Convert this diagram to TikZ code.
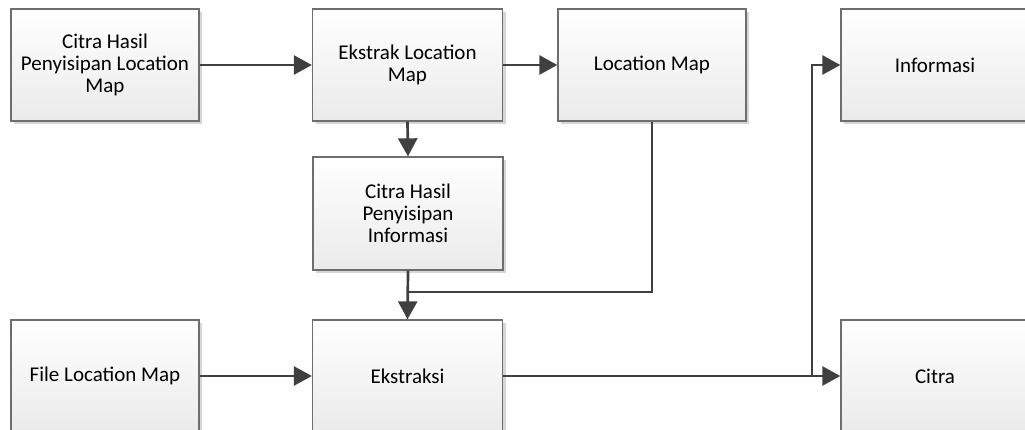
\documentclass[tikz,border=0pt]{standalone}
\usepackage{fontspec}
\setmainfont{Carlito}
\usetikzlibrary{arrows.meta,shadows}
\definecolor{linec}{HTML}{404040}
\definecolor{boxborder}{HTML}{6E6E6E}
\tikzset{
  blk/.style={draw=boxborder, line width=1.3pt, rectangle, top color=white, bottom color=black!8,
    minimum width=190pt, minimum height=112pt, align=center, inner sep=4pt,
    font=\fontsize{21}{22}\selectfont,
    drop shadow={shadow xshift=3pt, shadow yshift=-3pt, fill=black!16, opacity=1}},
  conn/.style={draw=linec, line width=2.7pt},
  arr/.style={conn, -{Triangle[length=18pt,width=19pt]}}
}
\begin{document}
\begin{tikzpicture}[x=1pt,y=-1pt]
\useasboundingbox (0,0) rectangle (1025,430);
\node[blk, minimum width=188pt] (b1) at (105,65) {Citra Hasil\\Penyisipan Location\\Map};
\node[blk] (b2) at (407.5,65) {Ekstrak Location\\Map};
\node[blk, minimum width=188pt] (b3) at (652,65) {Location Map};
\node[blk, minimum width=188pt] (b4) at (935,65) {Informasi};
\node[blk, minimum height=113pt] (b5) at (408,213.5) {Citra Hasil\\Penyisipan\\Informasi};
\node[blk, minimum width=188pt] (b6) at (105,376) {File Location Map};
\node[blk] (b7) at (407.5,376) {Ekstraksi};
\node[blk, minimum width=188pt] (b8) at (935,376) {Citra};
\coordinate (j1) at (407.5,292);
\coordinate (j2) at (812,376);
\draw[arr] (b1.east) -- (b2.west);
\draw[arr] (b2.east) -- (b3.west);
\draw[arr] (b2.south) -- (b5.north);
\draw[arr] (b5.south) -- (b7.north);
\draw[conn] (b3.south) |- (j1);
\draw[arr] (b6.east) -- (b7.west);
\draw[arr] (b7.east) -- (b8.west);
\draw[arr] (j2) |- (b4.west);
\end{tikzpicture}
\end{document}
